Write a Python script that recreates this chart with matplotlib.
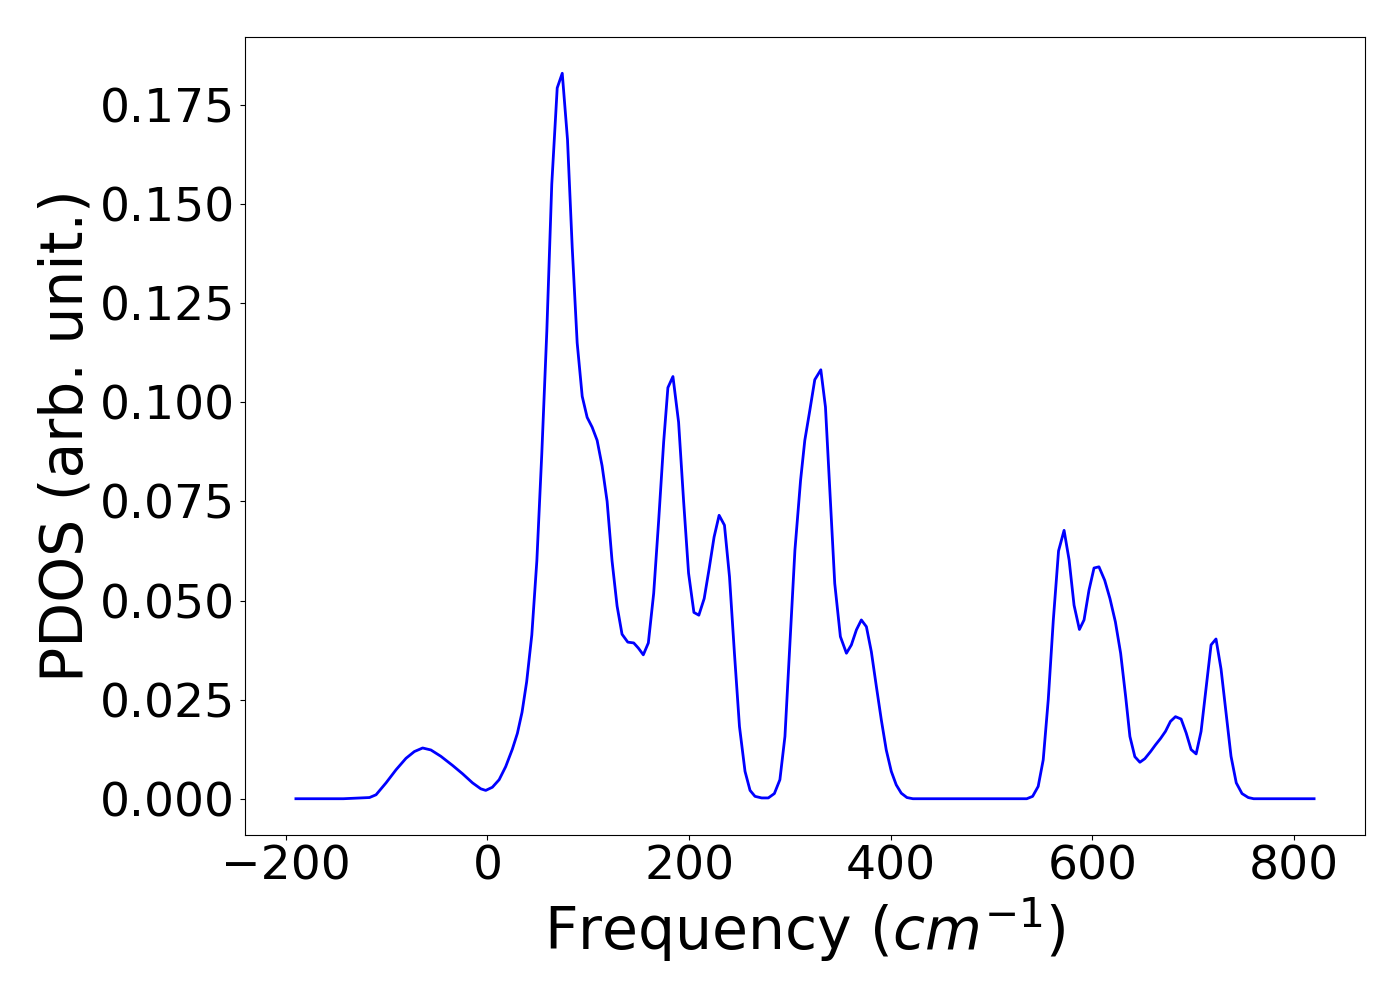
import matplotlib
matplotlib.use("Agg")
import matplotlib.pyplot as plt
from matplotlib.ticker import MultipleLocator, FormatStrFormatter

# phonon frequencies (cm^-1) and projected DOS
freq = [-190, -143, -117, -110.5, -100.6, -90.7, -80.8, -72.5, -64.3, -56.1,
        -46.2, -34.6, -24.7, -14.8, -6.6, -1.7, 4.9, 11.6, 18.1, 24.7,
        29.7, 34.3, 38.9, 44.0, 49.0, 53.9, 58.9, 63.8, 69.2, 74.2,
        79.4, 84.1, 89.0, 94.0, 98.9, 103.9, 108.8, 113.7, 118.7, 123.6,
        128.6, 133.5, 139.2, 145.1, 149.7, 154.6, 159.6, 164.9, 169.8, 174.8,
        179.0, 184.0, 189.6, 194.6, 199.5, 204.8, 209.7, 215.0, 219.9, 224.8,
        229.8, 235.1, 240.1, 245.0, 250.0, 255.5, 260.5, 265.4, 272.0, 278.6,
        284.6, 290.1, 295.1, 300.0, 305.0, 310.6, 314.8, 319.8, 324.7, 330.7,
        335.3, 339.6, 344.5, 350.1, 356.1, 361.0, 366.0, 370.9, 375.9, 380.8,
        385.8, 390.7, 395.6, 400.6, 405.5, 410.5, 416.1, 422, 535, 540.8,
        546.3, 551.3, 556.3, 561.3, 566.5, 572.0, 577.0, 581.9, 587.2, 591.8,
        596.7, 601.7, 606.6, 612.3, 617.5, 622.9, 628.1, 633.1, 637.3, 642.2,
        647.2, 652.1, 657.8, 662.7, 667.7, 672.6, 677.5, 682.5, 688.1, 693.1,
        698.0, 703.0, 707.9, 712.9, 717.8, 722.7, 727.7, 732.6, 737.6, 742.8,
        748.5, 754.7, 760, 820]

pdos = [0.0, 0.0, 0.0003, 0.0010, 0.0040, 0.0073, 0.0102, 0.0119, 0.0128, 0.0123,
        0.0107, 0.0084, 0.0063, 0.0040, 0.0025, 0.0021, 0.0029, 0.0048, 0.0081, 0.0125,
        0.0165, 0.0218, 0.0295, 0.0413, 0.0600, 0.0870, 0.1180, 0.1550, 0.1793, 0.1830,
        0.1663, 0.1390, 0.1150, 0.1015, 0.0962, 0.0937, 0.0904, 0.0840, 0.0750, 0.0600,
        0.0486, 0.0415, 0.0395, 0.0393, 0.0380, 0.0363, 0.0393, 0.0518, 0.0700, 0.0900,
        0.1037, 0.1065, 0.0950, 0.0750, 0.0569, 0.0470, 0.0463, 0.0505, 0.0580, 0.0660,
        0.0715, 0.0690, 0.0560, 0.0367, 0.0182, 0.0069, 0.0021, 0.0006, 0.0002, 0.0002,
        0.0013, 0.0048, 0.0157, 0.0392, 0.0627, 0.0803, 0.0904, 0.0980, 0.1057, 0.1082,
        0.0988, 0.0778, 0.0543, 0.0409, 0.0367, 0.0388, 0.0426, 0.0451, 0.0434, 0.0371,
        0.0283, 0.0199, 0.0123, 0.0069, 0.0035, 0.0014, 0.0003, 0.0, 0.0, 0.0006,
        0.0031, 0.0098, 0.0250, 0.0450, 0.0625, 0.0677, 0.0602, 0.0488, 0.0427, 0.0451,
        0.0526, 0.0582, 0.0585, 0.0551, 0.0505, 0.0446, 0.0367, 0.0257, 0.0157, 0.0106,
        0.0092, 0.0101, 0.0119, 0.0136, 0.0152, 0.0170, 0.0195, 0.0207, 0.0201, 0.0166,
        0.0124, 0.0113, 0.0170, 0.0279, 0.0388, 0.0403, 0.0327, 0.0217, 0.0107, 0.0040,
        0.0013, 0.0003, 0.0, 0.0]

fig, ax = plt.subplots(figsize=(14, 10), dpi=100)
ax.plot(freq, pdos, color='blue', lw=2)

ax.set_xlabel('Frequency ($cm^{-1}$)', fontsize=42)
ax.set_ylabel('PDOS (arb. unit.)', fontsize=42)
ax.tick_params(labelsize=34)
ax.yaxis.set_major_locator(MultipleLocator(0.025))
ax.yaxis.set_major_formatter(FormatStrFormatter('%.3f'))

fig.subplots_adjust(left=0.175, right=0.975, bottom=0.165, top=0.963)
fig.savefig('out.png')
